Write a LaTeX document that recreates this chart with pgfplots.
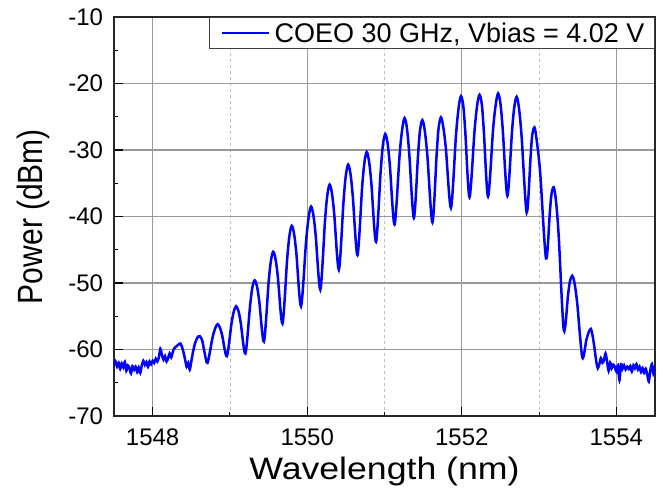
\documentclass[border=0pt]{standalone}
\usepackage{fontspec}
\setmainfont{Liberation Sans}
\usepackage{graphicx}
\usepackage{pgfplots}
\pgfplotsset{compat=1.18}

\begin{document}
\begin{tikzpicture}
\path[use as bounding box] (-114pt,-75pt) rectangle (558pt,416pt);
\begin{axis}[
    at={(0pt,0pt)}, anchor=south west,
    scale only axis,
    width=541pt, height=399pt,
    xmin=1547.5, xmax=1554.5,
    ymin=-70, ymax=-10,
    xtick={1548,1550,1552,1554},
    xticklabels={1548,1550,1552,1554},
    ytick={-70,-60,-50,-40,-30,-20,-10},
    yticklabels={-70,-60,-50,-40,-30,-20,-10},
    minor x tick num=1,
    minor y tick num=1,
    xtick pos=bottom, ytick pos=left,
    tick align=inside,
    major tick length=9pt,
    minor tick length=4.5pt,
    tick style={black, line width=1.1pt},
    axis line style={black!85, line width=1.3pt},
    xmajorgrids=true, ymajorgrids=true, xminorgrids=true,
    major grid style={black!40, line width=1.1pt},
    minor grid style={black!25, dashed, line width=0.7pt},
    ticklabel style={font=\fontsize{24}{28}\selectfont},
    xticklabel style={inner sep=0pt, yshift=-13pt},
    yticklabel style={inner sep=0pt, xshift=-10.7pt},
    xlabel={\scalebox{1.15}[1]{Wavelength (nm)}},
    ylabel={\scalebox{1}[1.17]{Power (dBm)}},
    xlabel style={font=\fontsize{31}{36}\selectfont, inner sep=0pt,
        at={([yshift=-63pt]axis description cs:0.5,0)}, anchor=base},
    ylabel style={font=\fontsize{30}{36}\selectfont, inner sep=0pt,
        at={([xshift=-71pt]axis description cs:0,0.5)}, anchor=base},
    legend style={
        at={(axis description cs:1,1)}, anchor=north east,
        draw=black!75, line width=1pt,
        inner xsep=6pt, inner ysep=2.5pt,
        nodes={inner xsep=4pt, inner ysep=2.5pt},
        font=\fontsize{27}{30}\selectfont
    },
    legend cell align=left,
    legend image code/.code={\path (0pt,0pt); \draw[#1] (5pt,0pt) -- (52.7pt,0pt);},
]
\addplot[blue, line width=2.5pt, smooth] coordinates {
    (1547.50,-62.3) (1547.52,-61.8) (1547.54,-62.6) (1547.56,-62.0) (1547.58,-62.9)
    (1547.60,-62.1) (1547.62,-62.7) (1547.64,-61.9) (1547.66,-63.2) (1547.68,-62.4)
    (1547.70,-62.8) (1547.72,-63.6) (1547.74,-62.5) (1547.76,-63.0) (1547.78,-62.6)
    (1547.80,-63.4) (1547.82,-62.7) (1547.84,-63.5) (1547.86,-62.4) (1547.88,-61.7)
    (1547.90,-62.3) (1547.92,-61.9) (1547.94,-62.6) (1547.96,-61.8) (1547.98,-62.2)
    (1548.00,-61.7) (1548.02,-62.0) (1548.04,-61.4) (1548.06,-61.8) (1548.08,-61.2)
    (1548.10,-59.9) (1548.12,-60.8) (1548.14,-61.5) (1548.16,-61.0) (1548.18,-61.8)
    (1548.20,-61.3) (1548.22,-60.6) (1548.24,-61.2) (1548.26,-60.4) (1548.28,-59.8)
    (1548.30,-59.6) (1548.33,-59.3) (1548.36,-59.1) (1548.39,-60.0) (1548.42,-61.5)
    (1548.44,-62.6) (1548.46,-62.0) (1548.48,-63.0) (1548.50,-61.8) (1548.52,-60.5)
    (1548.55,-59.0) (1548.58,-58.2) (1548.61,-58.0) (1548.64,-58.6) (1548.67,-60.3)
    (1548.71,-62.0)
    (1548.775,-58.2) (1548.81,-56.8) (1548.84,-56.2) (1548.87,-56.7) (1548.90,-57.9) (1548.96,-61.0)
    (1549.02,-56.1) (1549.05,-54.3) (1549.08,-53.5) (1549.11,-54.2) (1549.14,-56.0) (1549.20,-60.6)
    (1549.26,-53.5) (1549.29,-50.7) (1549.32,-49.6) (1549.35,-50.5) (1549.38,-52.8) (1549.44,-58.8)
    (1549.50,-50.0) (1549.53,-46.7) (1549.56,-45.3) (1549.59,-46.4) (1549.62,-49.1) (1549.68,-56.1)
    (1549.74,-46.5) (1549.77,-42.9) (1549.80,-41.4) (1549.83,-42.6) (1549.86,-45.6) (1549.92,-53.5)
    (1549.985,-43.8) (1550.02,-40.0) (1550.05,-38.5) (1550.08,-39.8) (1550.11,-42.9) (1550.17,-51.0)
    (1550.23,-40.7) (1550.26,-36.8) (1550.29,-35.2) (1550.32,-36.5) (1550.35,-39.7) (1550.41,-48.0)
    (1550.47,-37.7) (1550.50,-33.8) (1550.53,-32.2) (1550.56,-33.6) (1550.59,-37.0) (1550.65,-45.8)
    (1550.71,-35.7) (1550.74,-31.9) (1550.77,-30.3) (1550.80,-31.7) (1550.83,-35.0) (1550.89,-43.8)
    (1550.95,-33.3) (1550.98,-29.2) (1551.01,-27.6) (1551.04,-29.0) (1551.07,-32.4) (1551.13,-41.2)
    (1551.195,-30.8) (1551.23,-26.8) (1551.26,-25.2) (1551.29,-26.7) (1551.32,-30.5) (1551.38,-40.2)
    (1551.435,-30.6) (1551.46,-27.0) (1551.49,-25.5) (1551.52,-27.0) (1551.555,-30.9) (1551.62,-40.9)
    (1551.675,-30.6) (1551.70,-26.7) (1551.73,-25.1) (1551.76,-26.5) (1551.795,-29.9) (1551.86,-38.7)
    (1551.925,-27.8) (1551.96,-23.6) (1551.99,-21.9) (1552.02,-23.4) (1552.045,-27.2) (1552.10,-37.1)
    (1552.165,-27.1) (1552.20,-23.2) (1552.23,-21.7) (1552.26,-23.2) (1552.285,-27.1) (1552.34,-37.0)
    (1552.405,-26.9) (1552.44,-23.1) (1552.47,-21.5) (1552.50,-23.0) (1552.53,-26.9) (1552.59,-36.9)
    (1552.65,-27.2) (1552.68,-23.5) (1552.71,-22.0) (1552.74,-23.7) (1552.775,-28.1) (1552.84,-39.4)
    (1552.89,-31.1) (1552.91,-27.9) (1552.94,-26.6) (1552.97,-28.6) (1553.015,-33.5) (1553.09,-46.3)
    (1553.14,-39.3) (1553.16,-36.7) (1553.19,-35.6) (1553.22,-37.8) (1553.255,-43.1) (1553.32,-57.1)
    (1553.375,-51.8) (1553.40,-49.7) (1553.43,-48.9) (1553.46,-50.1) (1553.495,-53.2) (1553.56,-61.2)
    (1553.615,-58.4) (1553.67,-56.9) (1553.71,-59.2)
    (1553.74,-61.8) (1553.76,-62.8) (1553.78,-62.2) (1553.80,-61.3) (1553.82,-62.0)
    (1553.84,-61.6) (1553.86,-60.6) (1553.88,-61.8) (1553.90,-63.2) (1553.92,-62.0)
    (1553.94,-62.8) (1553.96,-62.3) (1553.98,-62.6) (1554.00,-63.3) (1554.02,-62.4)
    (1554.04,-64.6) (1554.06,-62.2) (1554.08,-62.9) (1554.10,-62.4) (1554.12,-63.0)
    (1554.14,-62.6) (1554.16,-62.9) (1554.18,-62.5) (1554.20,-63.3) (1554.22,-62.4)
    (1554.24,-62.8) (1554.26,-62.2) (1554.28,-63.0) (1554.30,-62.6) (1554.32,-63.4)
    (1554.34,-62.8) (1554.36,-63.5) (1554.38,-62.9) (1554.40,-63.8) (1554.42,-64.8)
    (1554.44,-63.1) (1554.46,-62.2) (1554.48,-63.6) (1554.50,-62.5)
};
\addlegendentry{COEO 30 GHz, Vbias = 4.02 V}
\end{axis}
\end{tikzpicture}
\end{document}
